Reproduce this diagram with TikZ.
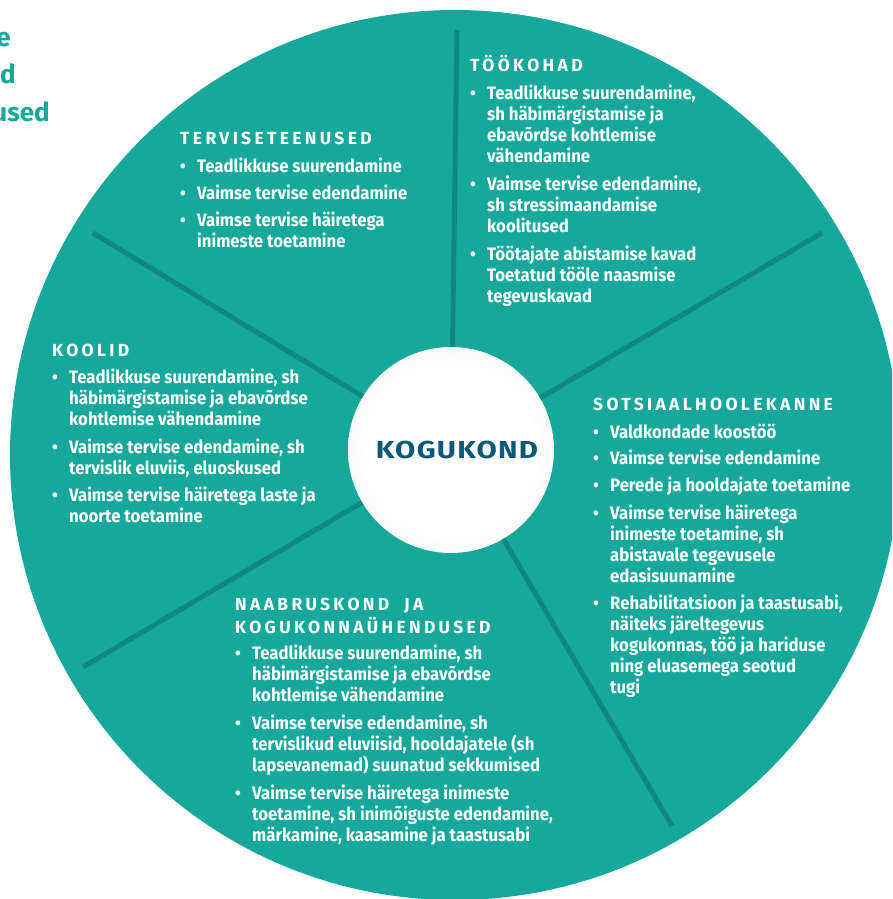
\documentclass[tikz,border=0pt]{standalone}
\usepackage{fontspec}
\setmainfont{Fira Sans}
\newfontfamily\itemfont{Fira Sans}[FakeStretch=0.93]
\newfontfamily\headfont{Fira Sans}[LetterSpace=19]
\newfontfamily\kogufont{Fira Sans}[FakeStretch=1.2,LetterSpace=5]
\newfontfamily\cutfont{Fira Sans}
\usetikzlibrary{positioning}
\definecolor{kteal}{RGB}{22,168,154}
\definecolor{kspoke}{RGB}{15,136,127}
\definecolor{kblue}{RGB}{12,88,120}
\pgfdeclareradialshading{kogushade}{\pgfpoint{0bp}{0bp}}{color(0bp)=(white); color(20bp)=(white); color(35bp)=(black!6); color(45bp)=(black!17); color(50bp)=(black!32)}
\newcommand{\bul}{\makebox[17pt][l]{\textbullet}}
\newcommand{\ind}{\hspace*{17pt}}
\newcommand{\hd}[1]{{\headfont\bfseries\fontsize{17.5}{21}\selectfont #1}}

\begin{document}
\begin{tikzpicture}[
    x=1pt, y=-1pt,
    sector/.style={anchor=base west,inner sep=0pt,align=left,text=white,
        font=\itemfont\bfseries\fontsize{18}{21}\selectfont},
    spoke/.style={kspoke,line width=5pt},
    cut/.style={anchor=base east,inner sep=0pt,text=kteal,
        font=\cutfont\bfseries\fontsize{26}{30}\selectfont}
]
    \useasboundingbox (0,0) rectangle (892,899);
    \clip (0,0) rectangle (892,899);

    % cut-off title on the left
    \node[cut] (cut1) at (11,47) {e};
    \node[cut] (cut2) at (16,83) {d};
    \node[cut] (cut3) at (50,121) {used};

    % big disc
    \fill[kteal] (455,455) circle (445pt);

    % centre
    \node[circle,minimum size=206pt,inner sep=0pt,shade,shading=kogushade,
        text=kblue,font=\kogufont\bfseries\fontsize{24.5}{28}\selectfont] (kogu) at (451,450) {\hspace{12pt}KOGUKOND};

    % outer ends of the spokes
    \coordinate (s-up) at (457,30);
    \coordinate (s-ul) at (93,233);
    \coordinate (s-ll) at (83,667);
    \coordinate (s-lr) at (672,826);
    \coordinate (s-ur) at (822,233);
    \foreach \s in {s-up,s-ul,s-ll,s-lr,s-ur}
        \draw[spoke] (kogu) -- (\s);

    % sectors (placed at the baseline of their last line)
    \node[sector] (tervis) at (180,247) {\hd{TERVISETEENUSED}\\[7pt]
        \bul Teadlikkuse suurendamine\\[6pt]
        \bul Vaimse tervise edendamine\\[6pt]
        \bul Vaimse tervise häiretega\\
        \ind inimeste toetamine};

    \node[sector] (tookohad) at (470,302) {\hd{TÖÖKOHAD}\\[7pt]
        \bul Teadlikkuse suurendamine,\\
        \ind sh häbimärgistamise ja\\
        \ind ebavõrdse kohtlemise\\
        \ind vähendamine\\[7pt]
        \bul Vaimse tervise edendamine,\\
        \ind sh stressimaandamise\\
        \ind koolitused\\[7pt]
        \bul Töötajate abistamise kavad\\
        \ind Toetatud tööle naasmise\\
        \ind tegevuskavad};

    \node[sector] (koolid) at (52,522) {\hd{KOOLID}\\[6pt]
        \bul Teadlikkuse suurendamine, sh\\
        \ind häbimärgistamise ja ebavõrdse\\
        \ind kohtlemise vähendamine\\[7pt]
        \bul Vaimse tervise edendamine, sh\\
        \ind tervislik eluviis, eluoskused\\[6pt]
        \bul Vaimse tervise häiretega laste ja\\
        \ind noorte toetamine};

    \node[sector] (sotsiaal) at (593,693) {\hd{SOTSIAALHOOLEKANNE}\\[7pt]
        \bul Valdkondade koostöö\\[5pt]
        \bul Vaimse tervise edendamine\\[6pt]
        \bul Perede ja hooldajate toetamine\\[7pt]
        \bul Vaimse tervise häiretega\\
        \ind inimeste toetamine, sh\\
        \ind abistavale tegevusele\\
        \ind edasisuunamine\\[6pt]
        \bul Rehabilitatsioon ja taastusabi,\\
        \ind näiteks järeltegevus\\
        \ind kogukonnas, töö ja hariduse\\
        \ind ning eluasemega seotud\\
        \ind tugi};

    \node[sector] (naabrus) at (235,841) {\hd{NAABRUSKOND\ \ JA}\\[2pt]
        \hd{KOGUKONNAÜHENDUSED}\\[5pt]
        \bul Teadlikkuse suurendamine, sh\\
        \ind häbimärgistamise ja ebavõrdse\\
        \ind kohtlemise vähendamine\\[7pt]
        \bul Vaimse tervise edendamine, sh\\
        \ind tervislikud eluviisid, hooldajatele (sh\\
        \ind lapsevanemad) suunatud sekkumised\\[7pt]
        \bul Vaimse tervise häiretega inimeste\\
        \ind toetamine, sh inimõiguste edendamine,\\
        \ind märkamine, kaasamine ja taastusabi};
\end{tikzpicture}
\end{document}
